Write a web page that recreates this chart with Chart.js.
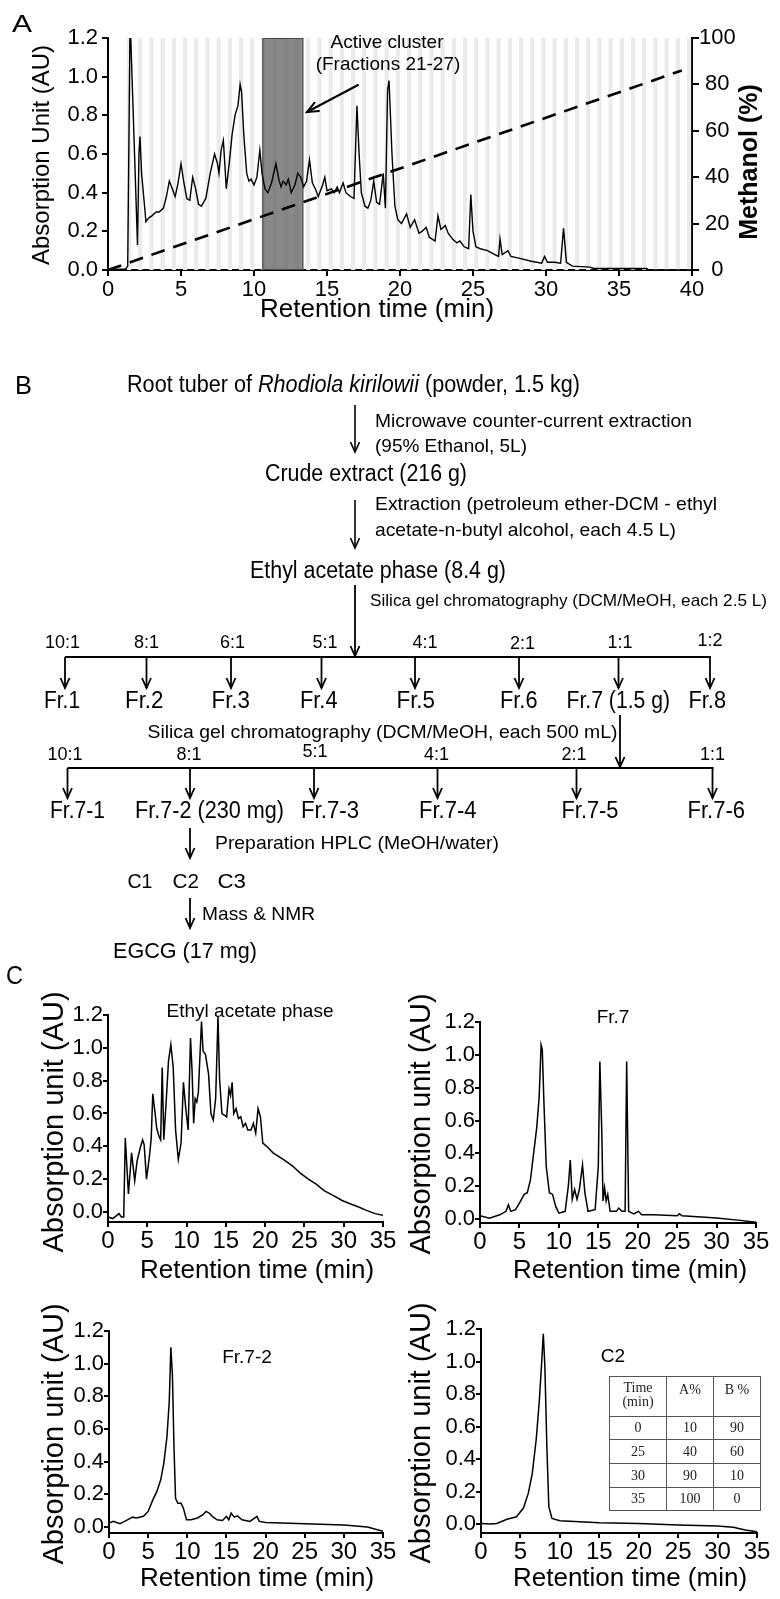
<!DOCTYPE html>
<html><head><meta charset="utf-8">
<script src="https://cdn.jsdelivr.net/npm/chart.js@4.4.1/dist/chart.umd.min.js"></script>
<style>
html,body{margin:0;padding:0;background:#fff;}
body{width:780px;height:1599px;position:relative;overflow:hidden;font-family:"Liberation Sans",Arial,sans-serif;}
canvas{position:absolute;}
#flow{position:absolute;left:0;top:0;}
table.grad{position:absolute;border-collapse:collapse;table-layout:fixed;width:148px;font-family:"Liberation Serif","Times New Roman",serif;font-size:14px;color:#222;}
table.grad td{border:1px solid #555;text-align:center;padding:0;line-height:14px;}
</style></head><body>
<canvas id="cA"></canvas>
<canvas id="cC1"></canvas>
<canvas id="cC2"></canvas>
<canvas id="cC3"></canvas>
<canvas id="cC4"></canvas>
<svg id="flow" width="780" height="1599" xmlns="http://www.w3.org/2000/svg"></svg>
<table class="grad" style="left:609px;top:1376px">
<tr style="height:40px"><td style="width:56px;vertical-align:top;padding-top:4px">Time<br>(min)</td><td style="width:46px;vertical-align:top;padding-top:6px">A%</td><td style="width:46px;vertical-align:top;padding-top:6px">B %</td></tr>
<tr style="height:23px"><td>0</td><td>10</td><td>90</td></tr>
<tr style="height:24px"><td>25</td><td>40</td><td>60</td></tr>
<tr style="height:24px"><td>30</td><td>90</td><td>10</td></tr>
<tr style="height:23px"><td>35</td><td>100</td><td>0</td></tr>
</table>
<script>
// ---------------- DATA ----------------
// Panel A: crude extract chromatogram (absorption, AU) and methanol gradient (%)
const chromA_time = [0,1.2,1.35,1.5,1.56,2.02,2.12,2.19,2.3,2.6,2.8,3.0,3.3,3.5,3.8,4.0,4.2,4.4,4.6,4.8,5.0,5.2,5.4,5.6,5.8,6.0,6.2,6.4,6.7,7.0,7.3,7.5,7.6,7.75,7.9,8.0,8.1,8.3,8.5,8.7,8.9,9.05,9.15,9.3,9.5,9.65,9.8,10.0,10.2,10.4,10.55,10.75,10.95,11.2,11.5,11.7,11.85,12.0,12.2,12.35,12.55,12.8,13.0,13.2,13.4,13.6,13.8,14.0,14.2,14.4,14.7,14.85,15.0,15.3,15.5,15.7,15.85,16.1,16.3,16.6,16.85,17.05,17.2,17.35,17.6,17.8,18.0,18.2,18.4,18.6,18.85,19.0,19.15,19.25,19.45,19.65,19.85,20.1,20.45,20.7,21.0,21.3,21.5,21.8,22.0,22.2,22.4,22.6,22.8,23.1,23.3,23.6,23.9,24.1,24.4,24.7,24.85,25.0,25.2,25.5,26.0,26.5,26.75,26.85,27.0,27.4,27.6,28.2,29.0,29.7,29.9,30.1,30.6,31.0,31.2,31.4,31.8,33.0,33.3,36.9,37.0,40];
const chromA_au = [0,0.005,0.02,1.2,1.2,0.13,0.6,0.69,0.5,0.25,0.27,0.28,0.3,0.3,0.32,0.38,0.46,0.42,0.38,0.45,0.55,0.45,0.37,0.36,0.48,0.42,0.34,0.33,0.37,0.5,0.6,0.55,0.5,0.62,0.67,0.55,0.42,0.55,0.7,0.8,0.85,0.96,0.92,0.7,0.5,0.46,0.47,0.44,0.48,0.62,0.5,0.42,0.4,0.45,0.55,0.47,0.43,0.46,0.44,0.47,0.4,0.44,0.5,0.48,0.43,0.46,0.57,0.45,0.42,0.38,0.44,0.48,0.41,0.42,0.4,0.43,0.4,0.45,0.4,0.38,0.37,0.85,0.6,0.4,0.33,0.32,0.36,0.46,0.35,0.34,0.5,0.32,0.93,0.98,0.6,0.33,0.26,0.24,0.29,0.22,0.26,0.19,0.2,0.22,0.17,0.16,0.15,0.28,0.21,0.23,0.19,0.16,0.14,0.15,0.12,0.11,0.39,0.2,0.12,0.11,0.1,0.08,0.07,0.16,0.08,0.1,0.07,0.06,0.045,0.035,0.07,0.04,0.04,0.035,0.215,0.04,0.02,0.015,0.008,0.008,0.002,0];
const methanol_time = [0, 39.3];
const methanol_pct = [0, 86];
const activeCluster = [10.57, 13.38];          // fractions 21-27 (min)
const xTicksA = [0,5,10,15,20,25,30,35,40];
const yTicksAU = [0,0.2,0.4,0.6,0.8,1.0,1.2];
const yTicksMeOH = [0,10,20,30,40,50,60,70,80,90,100];

// Panel C chromatograms
const xTicksC = [0,5,10,15,20,25,30,35];
const ethyl_time = [0,0.6,1.4,1.7,2.0,2.2,2.6,3.0,3.4,3.7,4.1,4.4,4.6,4.9,5.3,5.5,5.7,6.0,6.2,6.5,6.7,6.9,7.1,7.4,7.7,8.0,8.3,8.6,8.95,9.3,9.6,9.9,10.2,10.5,10.7,10.9,11.1,11.3,11.5,11.9,12.1,12.4,12.8,13.1,13.4,13.7,14.0,14.2,14.5,14.8,15.1,15.4,15.6,15.8,16.0,16.3,16.6,16.9,17.2,17.5,17.8,18.2,18.5,18.8,19.1,19.4,19.7,20.2,21.0,22.0,22.3,23.5,24.4,25.5,26.5,27.5,28.7,29.8,30.8,31.9,32.9,34.0,35];
const ethyl_au = [-0.03,-0.04,-0.01,-0.03,-0.03,0.45,0.11,0.36,0.19,0.31,0.39,0.44,0.41,0.2,0.35,0.45,0.72,0.6,0.51,0.46,0.44,0.88,0.44,0.67,0.92,1.02,0.88,0.5,0.32,0.42,0.79,0.63,0.5,1.06,0.86,0.54,0.69,0.67,0.73,1.16,0.98,0.96,0.84,0.6,0.56,0.69,1.19,0.81,0.6,0.59,0.58,0.75,0.71,0.79,0.6,0.63,0.57,0.58,0.52,0.54,0.5,0.5,0.54,0.48,0.63,0.58,0.42,0.4,0.36,0.33,0.32,0.28,0.24,0.2,0.17,0.13,0.1,0.07,0.05,0.03,0.01,-0.01,-0.02];
const fr7_time = [0,1.2,2.5,3.3,3.6,3.9,4.5,5.0,5.6,6.0,6.4,6.8,7.2,7.5,7.75,7.9,8.1,8.4,8.8,9.2,9.6,10.0,10.8,11.2,11.45,11.7,12.0,12.3,12.6,13.0,13.3,13.7,14.6,15.0,15.2,15.45,15.6,15.8,16.0,16.2,16.5,17.3,17.6,18.0,18.4,18.6,18.85,19.5,20.1,20.5,22,25,25.3,25.6,30,33,35];
const fr7_au = [0.02,0.005,0.026,0.047,0.087,0.047,0.057,0.097,0.15,0.16,0.24,0.4,0.56,0.74,1.06,1.03,0.72,0.32,0.16,0.15,0.077,0.036,0.047,0.2,0.36,0.12,0.18,0.12,0.18,0.33,0.16,0.047,0.057,0.32,0.96,0.52,0.11,0.19,0.11,0.15,0.047,0.047,0.067,0.047,0.047,0.96,0.047,0.032,0.047,0.026,0.026,0.02,0.032,0.02,0.006,-0.008,-0.02];
const fr72_time = [0,0.55,1.4,2.0,3.0,3.5,4.4,5.0,5.6,6.1,6.6,7.0,7.4,7.7,7.9,8.1,8.3,8.5,8.8,9.2,9.5,9.9,10.5,11.3,12.0,12.4,12.8,13.2,13.8,14.5,15.0,15.3,15.6,16.0,16.4,17,18,18.9,19.2,20,25,30,33,35];
const fr72_au = [0.024,0.034,0.02,0.034,0.06,0.055,0.065,0.095,0.166,0.216,0.287,0.39,0.55,0.77,1.1,0.93,0.49,0.176,0.145,0.145,0.115,0.044,0.044,0.055,0.075,0.095,0.085,0.065,0.044,0.04,0.065,0.044,0.085,0.06,0.068,0.044,0.034,0.065,0.034,0.028,0.02,0.012,0.0,-0.026];
const c2_time = [0,1.2,2.0,3.3,4.5,5.4,6.0,6.5,7.0,7.4,7.7,7.9,8.1,8.35,8.6,9.0,10,12.5,15,20,25,30,32,33.5,35];
const c2_au = [0.004,0.0,0.004,0.03,0.045,0.1,0.19,0.31,0.52,0.76,1.0,1.17,0.97,0.48,0.107,0.035,0.02,0.014,0.008,0.004,-0.006,-0.012,-0.02,-0.037,-0.047];

// ---------------- HELPERS ----------------
const FAM = '"Liberation Sans", Arial, sans-serif';
const pts = (t, v) => t.map((x, i) => ({x, y: v[i]}));
const fixTicks = arr => s => { s.ticks = arr.map(v => ({value: v})); };

const freeText = {
  id: 'freeText',
  afterDraw(chart, args, o) {
    const ctx = chart.ctx;
    const ox = o.offX || 0, oy = o.offY || 0;
    (o.lines || []).forEach(l => {
      ctx.save();
      ctx.strokeStyle = '#000'; ctx.lineWidth = l.w || 2; ctx.lineCap = 'round';
      ctx.beginPath(); ctx.moveTo(l.x1 - ox, l.y1 - oy); ctx.lineTo(l.x2 - ox, l.y2 - oy); ctx.stroke();
      if (l.head) {
        const a = Math.atan2(l.y2 - l.y1, l.x2 - l.x1), h = 12, s = 0.4;
        ctx.beginPath();
        ctx.moveTo(l.x2 - ox - h * Math.cos(a - s), l.y2 - oy - h * Math.sin(a - s));
        ctx.lineTo(l.x2 - ox, l.y2 - oy);
        ctx.lineTo(l.x2 - ox - h * Math.cos(a + s), l.y2 - oy - h * Math.sin(a + s));
        ctx.stroke();
      }
      ctx.restore();
    });
    (o.items || []).forEach(it => {
      ctx.save();
      ctx.font = it.font; ctx.fillStyle = '#000';
      ctx.textAlign = it.align || 'center'; ctx.textBaseline = 'middle';
      ctx.translate(it.x - ox, it.y - oy);
      if (it.rot) ctx.rotate(it.rot * Math.PI / 180);
      ctx.fillText(it.text, 0, 0);
      ctx.restore();
    });
  }
};

const fractionBands = {
  id: 'fractionBands',
  beforeDatasetsDraw(chart) {
    const {ctx, chartArea: {top, bottom}, scales: {x}} = chart;
    const start = 1.30, period = 0.767, band = 0.29;
    ctx.save();
    ctx.fillStyle = '#ebebeb';
    for (let a = start; a < 40; a += period) {
      const p1 = x.getPixelForValue(a), p2 = x.getPixelForValue(Math.min(a + band, 40));
      ctx.fillRect(p1, top, p2 - p1, bottom - top);
    }
    const l = x.getPixelForValue(activeCluster[0]), r = x.getPixelForValue(activeCluster[1]);
    ctx.fillStyle = 'rgba(90,90,90,0.72)';
    ctx.fillRect(l, top, r - l, bottom - top);
    ctx.strokeStyle = '#4a4a4a'; ctx.lineWidth = 1;
    ctx.strokeRect(l + 0.5, top + 0.5, r - l - 1, bottom - top - 1);
    ctx.restore();
  }
};

function axisStyle(tl) {
  return {
    grid: {drawOnChartArea: false, drawTicks: true, tickLength: tl, color: '#000', lineWidth: 2},
    border: {display: true, color: '#000', width: 2}
  };
}

// ---------------- PANEL A ----------------
(function () {
  const cv = document.getElementById('cA');
  cv.width = 780; cv.height = 330; cv.style.left = '0px'; cv.style.top = '0px';
  new Chart(cv, {
    type: 'line',
    data: {datasets: [
      {data: pts(chromA_time, chromA_au), borderColor: '#000', borderWidth: 1.4, pointRadius: 0, tension: 0, yAxisID: 'y'},
      {data: pts(methanol_time, methanol_pct), borderColor: '#000', borderWidth: 2.6, borderDash: [14, 9], pointRadius: 0, tension: 0, yAxisID: 'y1'}
    ]},
    options: {
      responsive: false, animation: false, events: [],
      layout: {padding: {top: 38, left: 0, right: 0, bottom: 0}},
      plugins: {
        legend: {display: false}, tooltip: {enabled: false},
        freeText: {
          items: [
            {text: 'Absorption Unit (AU)', x: 42, y: 155, rot: -90, font: '24px ' + FAM},
            {text: 'Methanol (%)', x: 750, y: 162, rot: -90, font: 'bold 25px ' + FAM},
            {text: 'Retention time (min)', x: 377, y: 310, font: '26px ' + FAM},
            {text: 'Active cluster', x: 387, y: 43, font: '19px ' + FAM},
            {text: '(Fractions 21-27)', x: 388, y: 65, font: '19px ' + FAM}
          ],
          lines: [{x1: 358, y1: 85, x2: 307, y2: 112, w: 2, head: true}]
        }
      },
      scales: {
        x: Object.assign({type: 'linear', min: 0, max: 40, afterBuildTicks: fixTicks(xTicksA),
          ticks: {font: {family: FAM, size: 22}, color: '#000', padding: 1, maxRotation: 0, autoSkip: false},
          afterFit: s => { s.height = 60; s.paddingLeft = 0; s.paddingRight = 0; }}, axisStyle(6)),
        y: Object.assign({min: 0, max: 1.2, afterBuildTicks: fixTicks(yTicksAU),
          ticks: {font: {family: FAM, size: 22}, color: '#000', padding: 4, callback: v => v.toFixed(1)},
          afterFit: s => { s.width = 108; }}, axisStyle(6)),
        y1: Object.assign({position: 'right', min: 0, max: 100, afterBuildTicks: fixTicks(yTicksMeOH),
          ticks: {font: {family: FAM, size: 22}, color: '#000', padding: 0, crossAlign: 'center',
            callback: v => (v % 20 === 0 ? String(v) : '')},
          afterFit: s => { s.width = 88; }}, axisStyle(7))
      }
    },
    plugins: [fractionBands, freeText]
  });
})();

// ---------------- PANEL C ----------------
function makeC(id, left, top, w, h, c) {
  const cv = document.getElementById(id);
  cv.width = w; cv.height = h; cv.style.left = left + 'px'; cv.style.top = top + 'px';
  new Chart(cv, {
    type: 'line',
    data: {datasets: [{data: pts(c.t, c.v), borderColor: '#000', borderWidth: 1.5, pointRadius: 0, tension: 0}]},
    options: {
      responsive: false, animation: false, events: [],
      layout: {padding: {top: c.padTop, right: c.padRight, left: 0, bottom: 0}},
      plugins: {legend: {display: false}, tooltip: {enabled: false},
        freeText: {offX: left, offY: top, items: c.texts}},
      scales: {
        x: Object.assign({type: 'linear', min: 0, max: 35, afterBuildTicks: fixTicks(xTicksC),
          ticks: {font: {family: FAM, size: 24, lineHeight: 1}, color: '#000', padding: c.xPad, maxRotation: 0, autoSkip: false},
          afterFit: s => { s.height = c.xH; s.paddingLeft = 0; s.paddingRight = 0; }}, axisStyle(5)),
        y: Object.assign({min: c.yMin, max: 1.2, afterBuildTicks: fixTicks(yTicksAU),
          ticks: {font: {family: FAM, size: 22}, color: '#000', padding: 0, callback: v => v.toFixed(1)},
          afterFit: s => { s.width = c.yW; }}, axisStyle(5))
      }
    },
    plugins: [freeText]
  });
}
const TY = '29px ' + FAM, T26 = '26px ' + FAM, T19 = '19px ' + FAM;
makeC('cC1', 0, 960, 400, 330, {t: ethyl_time, v: ethyl_au, padTop: 55, padRight: 17, yW: 108, xH: 68, xPad: 2, yMin: -0.061,
  texts: [{text: 'Absorption unit (AU)', x: 55, y: 1122, rot: -90, font: TY},
          {text: 'Retention time (min)', x: 257, y: 1271, font: T26},
          {text: 'Ethyl acetate phase', x: 250, y: 1012, font: T19}]});
makeC('cC2', 390, 960, 390, 330, {t: fr7_time, v: fr7_au, padTop: 62, padRight: 24, yW: 90, xH: 67, xPad: 2, yMin: -0.024,
  texts: [{text: 'Absorption unit (AU)', x: 422, y: 1124, rot: -90, font: TY},
          {text: 'Retention time (min)', x: 630, y: 1271, font: T26},
          {text: 'Fr.7', x: 613, y: 1018, font: T19}]});
makeC('cC3', 0, 1290, 400, 309, {t: fr72_time, v: fr72_au, padTop: 41, padRight: 17, yW: 109, xH: 66, xPad: 2, yMin: -0.037,
  texts: [{text: 'Absorption unit (AU)', x: 55, y: 1434, rot: -90, font: TY},
          {text: 'Retention time (min)', x: 257, y: 1579, font: T26},
          {text: 'Fr.7-2', x: 247, y: 1358, font: T19}]});
makeC('cC4', 390, 1290, 390, 309, {t: c2_time, v: c2_au, padTop: 39, padRight: 23, yW: 91, xH: 66, xPad: 2, yMin: -0.055,
  texts: [{text: 'Absorption unit (AU)', x: 422, y: 1433, rot: -90, font: TY},
          {text: 'Retention time (min)', x: 630, y: 1579, font: T26},
          {text: 'C2', x: 613, y: 1357, font: T19}]});

// ---------------- PANEL B (flow chart) + panel letters ----------------
(function () {
  const NS = 'http://www.w3.org/2000/svg';
  const svg = document.getElementById('flow');
  const NARROW = '"Liberation Sans Narrow","Arial Narrow","Liberation Sans",Arial,sans-serif';
  const SANS = '"Liberation Sans",Arial,sans-serif';
  function el(name, attrs) {
    const e = document.createElementNS(NS, name);
    for (const k in attrs) e.setAttribute(k, attrs[k]);
    svg.appendChild(e); return e;
  }
  function text(parts, x1, x2, cy, size, fam) {
    const t = el('text', {x: x1, y: (cy + 0.355 * size).toFixed(1), 'font-size': size, 'font-family': fam || NARROW,
      fill: '#000', textLength: x2 - x1, lengthAdjust: 'spacingAndGlyphs'});
    (Array.isArray(parts) ? parts : [[parts]]).forEach(p => {
      const s = document.createElementNS(NS, 'tspan');
      if (p[1]) s.setAttribute('font-style', 'italic');
      s.textContent = p[0]; t.appendChild(s);
    });
  }
  function ctext(str, cx, cy, size, fam) {
    const t = el('text', {x: cx, y: (cy + 0.355 * size).toFixed(1), 'font-size': size, 'font-family': fam || SANS,
      fill: '#000', 'text-anchor': 'middle'});
    t.textContent = str;
  }
  function arrow(x, y1, y2, w) {
    el('line', {x1: x, y1: y1, x2: x, y2: y2, stroke: '#000', 'stroke-width': w || 1.8});
    el('polyline', {points: `${x - 4.5},${y2 - 10} ${x},${y2} ${x + 4.5},${y2 - 10}`, fill: 'none', stroke: '#000', 'stroke-width': w || 1.8});
  }
  function hline(x1, x2, y) { el('line', {x1, y1: y, x2, y2: y, stroke: '#000', 'stroke-width': 2.2}); }

  // panel letters
  text('A', 12, 32, 23.5, 24, SANS);
  text('B', 15, 32, 385, 25, SANS);
  text('C', 6, 23, 975, 26, SANS);

  text([['Root tuber of '], ['Rhodiola kirilowii', 1], [' (powder, 1.5 kg)']], 127, 580, 384, 23);
  arrow(355, 405, 452, 1.6);
  text('Microwave counter-current extraction', 375, 692, 420, 19);
  text('(95% Ethanol, 5L)', 375, 527, 445, 19);
  text('Crude extract (216 g)', 265, 467, 472.5, 23);
  arrow(355, 500, 548, 1.6);
  text('Extraction (petroleum  ether-DCM  - ethyl', 375, 717, 503.5, 19);
  text('acetate-n-butyl alcohol,  each 4.5 L)', 375, 676, 529.5, 19);
  text('Ethyl acetate phase (8.4 g)', 250, 506, 569.5, 23);
  arrow(355, 585, 656, 1.8);
  text('Silica gel chromatography (DCM/MeOH,  each 2.5 L)', 370, 767, 600, 17);

  // first fractionation
  hline(65, 711, 657);
  [['10:1', 62.5, 642], ['8:1', 146.5, 642], ['6:1', 232.5, 642], ['5:1', 325, 642], ['4:1', 425, 642],
   ['2:1', 522.5, 643], ['1:1', 620, 642], ['1:2', 710, 640]].forEach(r => ctext(r[0], r[1], r[2], 18));
  [65, 146.5, 231, 321.5, 415, 519, 618.5, 710].forEach(x => arrow(x, 657, 688, 1.8));
  [['Fr.1', 44, 80], ['Fr.2', 125, 163.5], ['Fr.3', 211.5, 250], ['Fr.4', 300, 337.5], ['Fr.5', 396.5, 435],
   ['Fr.6', 500, 537.5], ['Fr.7 (1.5 g)', 566.5, 670], ['Fr.8', 688.5, 726]].forEach(f => text(f[0], f[1], f[2], 700, 23));

  // second fractionation
  arrow(620, 715, 767, 1.8);
  text('Silica gel chromatography  (DCM/MeOH, each 500 mL)', 147.5, 617.5, 731.5, 19);
  [['10:1', 65, 753.5], ['8:1', 189, 753.5], ['5:1', 315, 751], ['4:1', 436.5, 753.5], ['2:1', 574, 753.5],
   ['1:1', 712.5, 753.5]].forEach(r => ctext(r[0], r[1], r[2], 18));
  hline(67.5, 713.5, 768);
  [67.5, 190, 314, 437.5, 576.5, 712.5].forEach(x => arrow(x, 768, 798, 1.8));
  [['Fr.7-1', 50, 105], ['Fr.7-2 (230 mg)', 135, 284], ['Fr.7-3', 301, 359], ['Fr.7-4', 419, 476.5],
   ['Fr.7-5', 561.5, 618.5], ['Fr.7-6', 687.5, 745]].forEach(f => text(f[0], f[1], f[2], 810, 23));

  arrow(190, 828, 858, 1.8);
  text('Preparation HPLC (MeOH/water)', 215, 499, 842, 19);
  text('C1', 127.5, 152.5, 880, 21); text('C2', 172.5, 199, 880, 21); text('C3', 217.5, 246, 880, 21);
  arrow(190, 898, 928, 1.8);
  text('Mass & NMR', 202, 315, 913, 19, SANS);
  text('EGCG (17 mg)', 113, 257, 950, 22, SANS);
})();
</script>
</body></html>
